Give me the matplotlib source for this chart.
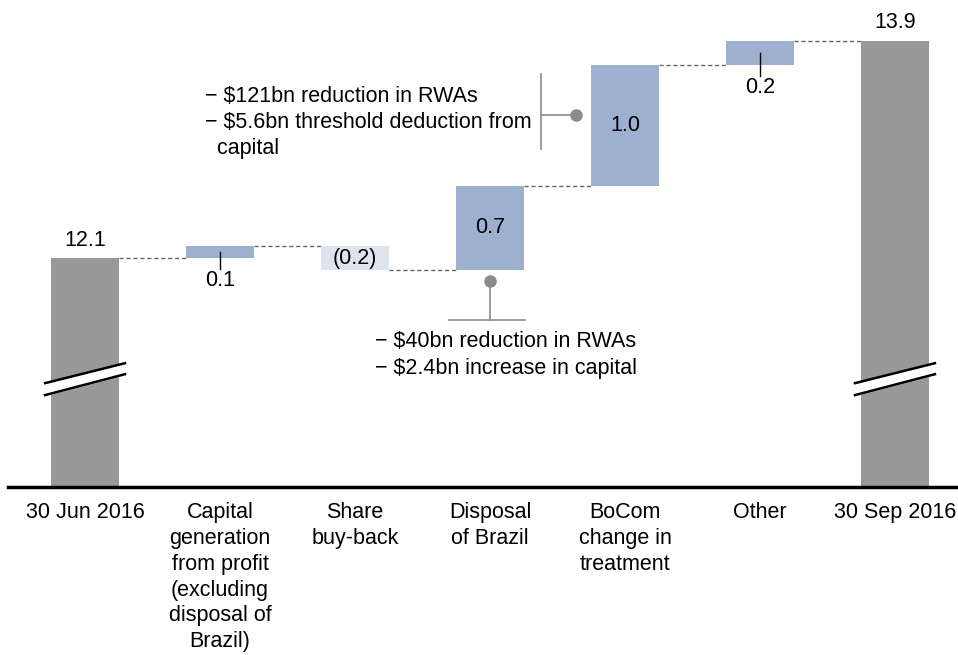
import numpy as np
import matplotlib
matplotlib.use('Agg')
import matplotlib.pyplot as plt

plt.rcParams['font.family'] = ['Liberation Sans', 'DejaVu Sans']

categories = ['30 Jun 2016', 'Capital\ngeneration\nfrom profit\n(excluding\ndisposal of\nBrazil)',
              'Share\nbuy-back', 'Disposal\nof Brazil', 'BoCom\nchange in\ntreatment', 'Other',
              '30 Sep 2016']
start_value = 12.1
changes = [0.1, -0.2, 0.7, 1.0, 0.2]
end_value = 13.9
labels = ['12.1', '0.1', '(0.2)', '0.7', '1.0', '0.2', '13.9']

note_bocom = ['\u2212 $121bn reduction in RWAs', '\u2212 $5.6bn threshold deduction from', '  capital']
note_brazil = ['\u2212 $40bn reduction in RWAs', '\u2212 $2.4bn increase in capital']

gray = '#989898'
blue = '#9db0cf'
light = '#dde4ef'
ymin, ymax = 10.207, 14.07
w = 0.5

fig = plt.figure(figsize=(9.58, 6.55), dpi=100)
ax = fig.add_axes([0.008, 0.2565, 0.992, 0.713])
ax.set_xlim(-0.573, 6.467)
ax.set_ylim(ymin, ymax)

x = np.arange(len(categories))
# totals
ax.bar([0, 6], [start_value - ymin, end_value - ymin], bottom=ymin, width=w, color=gray, zorder=2)
levels = start_value + np.concatenate([[0], np.cumsum(changes)])
for i, c in enumerate(changes):
    lo = min(levels[i], levels[i + 1])
    ax.bar(i + 1, abs(c), bottom=lo, width=w, color=blue if c > 0 else light, zorder=2)

# connectors
for i in range(6):
    lvl = levels[i]
    ax.plot([i + w / 2, i + 1 - w / 2], [lvl, lvl], ls=(0, (3, 2)), color='#666666', lw=1, zorder=1)

fs = 15.5
ax.text(0, start_value + 0.06, labels[0], ha='center', va='bottom', fontsize=fs)
ax.text(6, end_value + 0.06, labels[6], ha='center', va='bottom', fontsize=fs)
# small positives: label below with tick
for i in [1, 5]:
    top, bot = levels[i], levels[i - 1]
    mid = (top + bot) / 2
    ax.plot([i, i], [mid, bot - 0.09], color='black', lw=1, zorder=3)
    ax.text(i, bot - 0.1, labels[i], ha='center', va='top', fontsize=fs)
for i in [2, 3, 4]:
    mid = (levels[i - 1] + levels[i]) / 2
    ax.text(i, mid, labels[i], ha='center', va='center', fontsize=fs)

# axis break marks
for xc in [0, 6]:
    xs = np.array([xc - 0.296, xc + 0.296])
    y1 = np.array([11.066, 11.231])
    y2 = np.array([10.967, 11.140])
    ax.fill_between(xs, y2, y1, color='white', zorder=3)
    ax.plot(xs, y1, color='black', lw=1.8, zorder=4)
    ax.plot(xs, y2, color='black', lw=1.8, zorder=4)

# BoCom note
ng = '#8c8c8c'
ax.plot([3.378, 3.378], [13.006, 13.626], color=ng, lw=1.2, zorder=3)
ax.plot([3.378, 3.637], [13.287, 13.287], color=ng, lw=1.2, zorder=3)
ax.plot(3.637, 13.287, 'o', color=ng, ms=8, zorder=4)
for k, line in enumerate(note_bocom):
    ax.text(0.889, 13.436 - k * 0.215, line, ha='left', va='center', fontsize=fs)

# Brazil note
ax.plot([3, 3], [11.908, 11.586], color=ng, lw=1.2, zorder=3)
ax.plot(3, 11.908, 'o', color=ng, ms=8, zorder=4)
ax.plot([2.70, 3.26], [11.586, 11.586], color=ng, lw=1.2, zorder=3)
for k, line in enumerate(note_brazil):
    ax.text(2.148, 11.413 - k * 0.223, line, ha='left', va='center', fontsize=fs)

ax.set_xticks(x)
ax.set_xticklabels(categories, fontsize=fs, linespacing=1.3, va='top')
ax.tick_params(axis='x', length=0, pad=11)
ax.set_yticks([])
for s in ['left', 'right', 'top']:
    ax.spines[s].set_visible(False)
ax.spines['bottom'].set_linewidth(2.5)

fig.savefig('out.png', dpi=100)
